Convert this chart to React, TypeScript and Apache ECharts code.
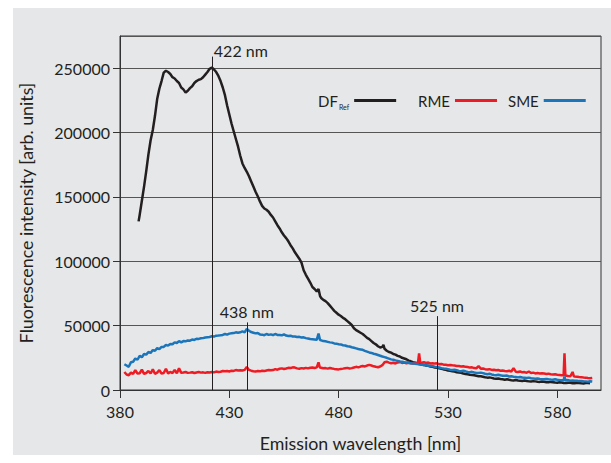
import React, { useEffect, useRef } from "react";
import * as echarts from "echarts";

const FONT = 'Lato, "Noto Sans", sans-serif';
const TEXT = "#231f20";

const xTicks = [380, 430, 480, 530, 580];
const annotWl = [422, 438, 525];
const annotTop = [259000, 52500, 57400];

const seriesNames = ["DF", "RME", "SME"];
const seriesColors = ["#231f20", "#ed1c24", "#1a75bb"];

const dfRef = [
  [388.5, 131000], [389, 136000], [390, 147000], [391, 158000], [392, 170000], [393, 183000], [394, 194000], [395, 202000],
  [396, 213000], [397, 226000], [398, 234000], [399, 240000], [400, 246500], [401, 248000], [402, 247000], [403, 245500],
  [404, 243000], [405, 242000], [406, 240000], [407, 238500], [408, 235000], [409, 233500], [410, 231000], [411, 232500],
  [412, 234500], [413, 236000], [414, 238500], [415, 240000], [416, 241000], [417, 241500], [418, 243000], [419, 245000],
  [420, 247000], [421, 249500], [422, 250500], [423, 249000], [424, 247000], [425, 244000], [426, 240000], [427, 235000],
  [428, 229000], [429, 221000], [430, 214000], [431, 207000], [432, 201000], [433, 195000], [434, 189000], [435, 182000],
  [436, 176000], [437, 172500], [438, 169500], [439, 166000], [440, 162000], [441, 158000], [442, 154000], [443, 150500],
  [444, 146500], [445, 143000], [446, 141000], [447, 140000], [448, 138500], [449, 136000], [450, 134000], [451, 131000],
  [452, 128000], [453, 125500], [454, 122500], [455, 120000], [456, 118000], [457, 115500], [458, 112500], [459, 110000],
  [460, 107000], [461, 104500], [462, 102000], [463, 99000], [464, 93000], [465, 89500], [466, 86500], [467, 83500],
  [468, 80000], [469, 78500], [470, 76500], [470.8, 78500], [471.5, 73000], [472, 71500], [473, 70000], [474, 69000],
  [475, 67500], [476, 65500], [477, 63500], [478, 61500], [479, 60000], [480, 58500], [481, 57500], [482, 56000],
  [483, 55000], [484, 53500], [485, 52000], [486, 50500], [487, 48000], [488, 46500], [489, 45500], [490, 44500],
  [491, 43500], [492, 42000], [493, 40500], [494, 39500], [495, 38000], [496, 36500], [497, 35500], [498, 34000],
  [499, 33000], [500, 33500], [500.5, 35000], [501, 32000], [502, 30500], [503, 29500], [504, 29000], [505, 28000],
  [506, 27500], [507, 26500], [508, 26000], [509, 25000], [510, 24500], [511, 23900], [512, 22800], [513, 22300],
  [514, 21600], [515, 21200], [516, 20600], [517, 20300], [518, 19800], [519, 19500], [520, 19100], [521, 18800],
  [522, 18300], [523, 18000], [524, 17500], [525, 17200], [526, 16800], [527, 16400], [528, 16000], [529, 15700],
  [530, 15200], [531, 15000], [532, 14600], [533, 14300], [534, 13800], [535, 13600], [536, 13300], [537, 12800],
  [538, 12500], [539, 12300], [540, 11900], [541, 11700], [542, 11400], [543, 11000], [544, 10600], [545, 10700],
  [546, 10300], [547, 9900], [548, 9600], [549, 9800], [550, 9400], [551, 9000], [552, 8800], [553, 9000],
  [554, 8600], [555, 8300], [556, 8000], [557, 8300], [558, 7900], [559, 7600], [560, 7400], [561, 7800],
  [562, 7400], [563, 7100], [564, 7000], [565, 7300], [566, 7000], [567, 6700], [568, 6600], [569, 6900],
  [570, 6700], [571, 6400], [572, 6300], [573, 6600], [574, 6400], [575, 6100], [576, 6000], [577, 6300],
  [578, 6100], [579, 5800], [580, 5700], [581, 6000], [582, 5800], [583, 5500], [584, 5400], [585, 5700],
  [586, 5600], [587, 5300], [588, 5300], [589, 5600], [590, 5500], [591, 5200], [592, 5100], [593, 5500],
  [594, 5400], [595, 5200],
];

const sme = [
  [382, 20000], [383, 19000], [384, 18000], [385, 21500], [386, 22000], [387, 24500], [388, 23500], [389, 26500],
  [390, 25500], [391, 28000], [392, 27500], [393, 29500], [394, 28800], [395, 31000], [396, 30500], [397, 32500],
  [398, 31800], [399, 33500], [400, 33500], [401, 35000], [402, 34500], [403, 35800], [404, 35500], [405, 37000],
  [406, 36500], [407, 38000], [408, 37000], [409, 38000], [410, 37800], [411, 38500], [412, 38300], [413, 39200],
  [414, 38900], [415, 39800], [416, 39700], [417, 40200], [418, 40300], [419, 40800], [420, 41000], [421, 41200],
  [422, 41800], [423, 41500], [424, 42200], [425, 42300], [426, 42500], [427, 42800], [428, 43500], [429, 43000],
  [430, 43800], [431, 44000], [432, 44200], [433, 44800], [434, 44500], [435, 44800], [436, 45500], [437, 44800],
  [438, 47500], [439, 46000], [440, 45000], [441, 44500], [442, 44000], [443, 44300], [444, 43200], [445, 43000],
  [446, 42600], [447, 43500], [448, 42800], [449, 43200], [450, 42600], [451, 43500], [452, 42800], [453, 42700],
  [454, 42500], [455, 43200], [456, 42300], [457, 42000], [458, 42200], [459, 41500], [460, 41600], [461, 41200],
  [462, 41300], [463, 40800], [464, 40900], [465, 40300], [466, 40000], [467, 39600], [468, 39500], [469, 39300],
  [470, 39000], [470.8, 43800], [471.5, 38800], [472, 38600], [473, 38000], [474, 37800], [475, 37400], [476, 37000],
  [477, 36800], [478, 36200], [479, 36000], [480, 35600], [481, 35400], [482, 34800], [483, 34600], [484, 34000],
  [485, 33800], [486, 33200], [487, 32800], [488, 32300], [489, 31800], [490, 31500], [491, 31200], [492, 30400],
  [493, 29800], [494, 29200], [495, 28800], [496, 28200], [497, 27800], [498, 27200], [499, 26600], [500, 26000],
  [501, 25500], [502, 25000], [503, 24400], [504, 23800], [505, 23500], [506, 23000], [507, 22600], [508, 22200],
  [509, 21900], [510, 21500], [511, 21400], [512, 21000], [513, 20800], [514, 20500], [515, 20400], [516, 20100],
  [517, 19800], [518, 19600], [519, 19500], [520, 19200], [521, 18800], [522, 18600], [523, 18400], [524, 18000],
  [525, 17900], [526, 17500], [527, 17000], [528, 16700], [529, 16600], [530, 16200], [531, 15800], [532, 15500],
  [533, 15700], [534, 15300], [535, 14800], [536, 14600], [537, 14900], [538, 14500], [539, 14000], [540, 13800],
  [541, 14100], [542, 13600], [543, 13300], [544, 13200], [545, 13500], [546, 13100], [547, 12600], [548, 12300],
  [549, 12600], [550, 12100], [551, 11700], [552, 11500], [553, 11800], [554, 11400], [555, 11100], [556, 11000],
  [557, 11200], [558, 10500], [559, 10600], [560, 10300], [561, 10100], [562, 9800], [563, 10100], [564, 9700],
  [565, 9500], [566, 9300], [567, 9600], [568, 9100], [569, 8900], [570, 8700], [571, 9000], [572, 8600],
  [573, 8400], [574, 8300], [575, 8600], [576, 8300], [577, 8100], [578, 8000], [579, 8300], [580, 7900],
  [581, 7700], [582, 7600], [582.9, 7600], [583.3, 10500], [583.7, 7600], [584, 7500], [585, 7700], [586, 7200],
  [587, 7300], [588, 7100], [589, 7200], [590, 6900], [591, 7000], [592, 6800], [593, 6700], [594, 6500],
  [595, 6800], [596, 6600],
];

const rme = [
  [382, 14000], [383, 12000], [384, 11500], [385, 13500], [386, 12500], [387, 15500], [388, 12800], [389, 13000],
  [390, 15800], [391, 12500], [392, 13200], [393, 14800], [394, 12800], [395, 16000], [396, 12600], [397, 13500],
  [398, 15500], [399, 12800], [400, 13200], [401, 16500], [402, 12900], [403, 14000], [404, 13200], [405, 15500],
  [406, 13000], [407, 16800], [408, 13300], [409, 13600], [410, 14000], [411, 13300], [412, 13500], [413, 13800],
  [414, 13200], [415, 13600], [416, 14000], [417, 13500], [418, 13700], [419, 13300], [420, 13800], [421, 13600],
  [422, 14000], [423, 13700], [424, 14300], [425, 14000], [426, 14200], [427, 14800], [428, 14500], [429, 14700],
  [430, 14400], [431, 15000], [432, 14800], [433, 15500], [434, 15200], [435, 15300], [436, 15100], [437, 15600],
  [438, 17800], [439, 15600], [440, 15000], [441, 14600], [442, 14300], [443, 14800], [444, 14500], [445, 15000],
  [446, 14700], [447, 15200], [448, 15600], [449, 15300], [450, 15500], [451, 16200], [452, 15800], [453, 16500],
  [454, 16800], [455, 16300], [456, 16700], [457, 17200], [458, 17000], [459, 17600], [460, 17400], [461, 16800],
  [462, 16500], [463, 17000], [464, 16700], [465, 17200], [466, 16800], [467, 17300], [468, 17500], [469, 17100],
  [470, 17600], [470.8, 21500], [471.4, 17500], [472, 17300], [473, 16900], [474, 17000], [475, 16600], [476, 17100],
  [477, 16700], [478, 16400], [479, 16200], [480, 16000], [481, 16400], [482, 16600], [483, 16900], [484, 17200],
  [485, 16700], [486, 17000], [487, 17500], [488, 18000], [489, 17600], [490, 18200], [491, 18600], [492, 18300],
  [493, 19000], [494, 19500], [495, 19000], [496, 18400], [497, 18000], [498, 17700], [499, 18200], [500, 19300],
  [501, 21500], [502, 22000], [503, 21300], [504, 20800], [505, 21200], [506, 20600], [507, 21400], [508, 21800],
  [509, 21000], [510, 21300], [511, 20800], [512, 21400], [513, 20700], [514, 20500], [515, 21000], [516.3, 21200],
  [516.8, 28500], [517.3, 21500], [518, 21200], [519, 21600], [520, 21000], [521, 21300], [522, 20600], [523, 20800],
  [524, 20500], [525, 20700], [526, 20000], [527, 20200], [528, 19700], [529, 19600], [530, 19300], [531, 19500],
  [532, 19200], [533, 19000], [534, 18700], [535, 18600], [536, 18300], [537, 18500], [538, 18000], [539, 17800],
  [540, 17400], [541, 17600], [542, 17000], [543, 16900], [544, 18500], [545, 16600], [546, 16700], [547, 16200],
  [548, 16000], [549, 16200], [550, 15600], [551, 15700], [552, 15300], [553, 15500], [554, 15000], [555, 15200],
  [556, 14800], [557, 14600], [558, 14900], [559, 14400], [560, 17000], [561, 14200], [562, 14000], [563, 14400],
  [564, 13700], [565, 13900], [566, 13400], [567, 14400], [568, 13200], [569, 13500], [570, 12900], [571, 13200],
  [572, 12900], [573, 13000], [574, 12800], [575, 12500], [576, 12700], [577, 12300], [578, 12000], [579, 12200],
  [580, 11900], [581, 11700], [582, 11500], [582.9, 11400], [583.3, 28500], [583.7, 11300], [584, 11100], [585, 10900],
  [586, 10700], [587, 14000], [587.6, 10600], [588, 10400], [589, 10300], [590, 10100], [591, 10000], [592, 9700],
  [593, 9600], [594, 9300], [595, 9100], [596, 9400],
];

const seriesData = [dfRef, rme, sme];
const legendLeft = [318, 418, 508];

export default function App() {
  const ref = useRef<HTMLDivElement>(null);

  useEffect(() => {
    const chart = echarts.init(ref.current!, null, { renderer: "svg" });
    const legendRich = {
      m: { fontSize: 15, fontFamily: FONT, color: TEXT, lineHeight: 20 },
      s: { fontSize: 7, fontFamily: FONT, color: TEXT, verticalAlign: "bottom", lineHeight: 20, padding: [7, 0, 0, 1] },
    };
    const annotLabel = { fontSize: 16, color: TEXT, fontFamily: FONT, opacity: 1 };
    chart.setOption({
      animation: false,
      backgroundColor: "transparent",
      textStyle: { fontFamily: FONT },
      legend: seriesNames.map((n, i) => ({
        data: [n],
        left: legendLeft[i],
        top: 93,
        padding: 0,
        align: "right",
        icon: "rect",
        itemWidth: 42,
        itemHeight: 3,
        selectedMode: false,
        formatter: (name: string) => (name === "DF" ? "{m|DF}{s|Ref}" : "{m|" + name + "}"),
        textStyle: { color: TEXT, fontSize: 15, fontFamily: FONT, rich: legendRich },
      })),
      grid: {
        left: 120,
        right: 10,
        top: 36,
        bottom: 73,
        show: true,
        borderColor: "#333",
        borderWidth: 1,
        backgroundColor: "transparent",
      },
      xAxis: {
        type: "value",
        min: 380,
        max: 600,
        name: "Emission wavelength [nm]",
        nameLocation: "middle",
        nameGap: 44,
        nameTextStyle: { fontSize: 17.8, color: TEXT, fontFamily: FONT },
        axisLine: { show: true, onZero: false, lineStyle: { color: "#333", width: 1 } },
        axisTick: { show: true, length: 8, customValues: xTicks, lineStyle: { color: "#333", width: 1 } },
        axisLabel: { customValues: xTicks, fontSize: 16, margin: 13, color: TEXT, fontFamily: FONT },
        splitLine: { show: false },
      },
      yAxis: {
        type: "value",
        min: 0,
        max: 275000,
        interval: 50000,
        name: "Fluorescence intensity [arb. units]",
        nameLocation: "middle",
        nameGap: 85,
        nameTextStyle: { fontSize: 17.8, color: TEXT, fontFamily: FONT },
        axisLine: { show: true, lineStyle: { color: "#333", width: 1 } },
        axisTick: { show: true, length: 7, lineStyle: { color: "#333", width: 1 } },
        axisLabel: {
          fontSize: 16,
          margin: 10,
          color: TEXT,
          fontFamily: FONT,
          showMaxLabel: false,
          formatter: (v: number) => String(v),
        },
        splitLine: { show: true, lineStyle: { color: "#555", width: 1 } },
      },
      series: [
        ...seriesNames.map((n, i) => ({
          name: n,
          type: "line",
          data: seriesData[i],
          showSymbol: false,
          symbol: "none",
          lineStyle: { color: seriesColors[i], width: 2.5 },
          itemStyle: { color: seriesColors[i] },
          silent: true,
          z: 2 + i,
        })),
        {
          name: "annot",
          type: "scatter",
          symbol: "circle",
          symbolSize: 0,
          itemStyle: { color: TEXT, opacity: 1 },
          silent: true,
          z: 6,
          data: annotWl.map((w, i) => ({
            value: [w, annotTop[i]],
            label: i === 0
              ? { show: true, position: "right", distance: 2, offset: [0, -6], ...annotLabel }
              : { show: true, position: "top", distance: 3, ...annotLabel },
          })),
          label: {
            show: true,
            ...annotLabel,
            formatter: (p: any) => p.value[0] + " nm",
          },
          markLine: {
            symbol: "none",
            silent: true,
            animation: false,
            label: { show: false },
            lineStyle: { color: "#231f20", width: 1, type: "solid" },
            data: annotWl.map((w, i) => [{ coord: [w, 0] }, { coord: [w, annotTop[i]] }]),
          },
        },
      ],
    });
    return () => chart.dispose();
  }, []);

  return (
    <div style={{ position: "absolute", left: 0, top: 0, width: 611, height: 463, background: "#ffffff" }}>
      <div style={{ position: "absolute", left: 13, top: 8, width: 598, height: 447, background: "#e6e7e8" }} />
      <div ref={ref} style={{ position: "absolute", left: 0, top: 0, width: 611, height: 463 }} />
    </div>
  );
}
